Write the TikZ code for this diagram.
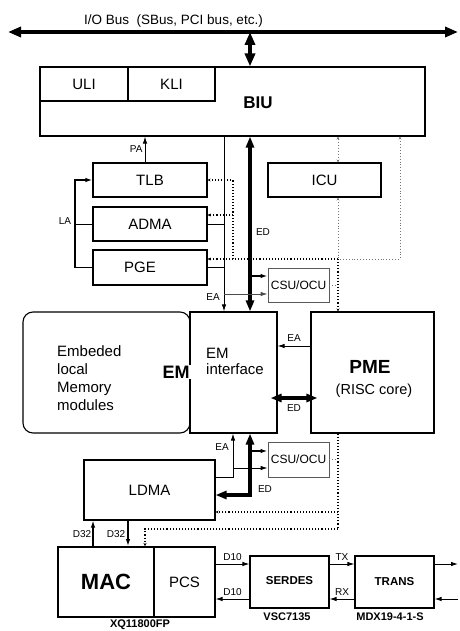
\documentclass[tikz,border=0pt]{standalone}
\usepackage{fontspec}
\setmainfont{Liberation Sans}
\usetikzlibrary{arrows.meta}

\begin{document}
\begin{tikzpicture}[x=1pt, y=-1pt,
  blk/.style={draw, line width=1.1pt, inner sep=0pt, align=center, font=\fontsize{15}{18}\selectfont},
  csu/.style={draw=black!65, line width=0.9pt, inner sep=0pt, minimum width=61pt, minimum height=34pt, font=\fontsize{12}{14}\selectfont},
  lbl/.style={inner sep=0pt, font=\fontsize{10}{12}\selectfont},
  partno/.style={inner sep=0pt, font=\bfseries\fontsize{11}{13}\selectfont},
  wire/.style={line width=0.9pt},
  bus/.style={line width=3.6pt, {Triangle[length=13pt,width=10pt]}-{Triangle[length=13pt,width=10pt]}},
  edbus/.style={line width=3.2pt},
  dotlight/.style={dotted, line width=0.9pt, black!55},
  dotdark/.style={dotted, line width=1.1pt},
  >={Latex[length=7pt,width=4.5pt]},
  ed>/.tip={Triangle[length=11pt,width=8pt]},
  dt>/.tip={Stealth[length=3pt,width=3pt]}
]
\useasboundingbox (0,0) rectangle (459,631);

% boxes
\node[blk, minimum width=385pt, minimum height=69pt] (biu) at (232.5,101.5) {};
\node[blk, minimum width=88pt, minimum height=34pt] (uli) at (84,84) {ULI};
\node[blk, minimum width=87pt, minimum height=34pt] (kli) at (171.5,84) {KLI};
\node[font=\bfseries\fontsize{17}{20}\selectfont] (biulbl) at (258,103) {BIU};
\node[blk, minimum width=114pt, minimum height=34pt] (tlb) at (150,180) {TLB};
\node[blk, minimum width=114pt, minimum height=34pt] (adma) at (150,224) {ADMA};
\node[blk, minimum width=114pt, minimum height=35pt] (pge) at (150,267.5) {\hspace*{-20pt}PGE};
\node[blk, minimum width=113pt, minimum height=34pt] (icu) at (324.5,180) {ICU};
\node[csu] (csu1) at (298.5,285) {CSU/OCU};
\node[blk, rounded corners=10pt, minimum width=167pt, minimum height=121pt] (emm) at (106.5,372.5) {};
\node[blk, minimum width=87pt, minimum height=121pt] (emi) at (233.5,372.5) {};
\node[blk, minimum width=123pt, minimum height=121pt] (pme) at (372.5,372.5) {};
\node[csu, minimum height=35pt] (csu2) at (298.5,459.5) {CSU/OCU};
\node[blk, minimum width=131pt, minimum height=60pt] (ldma) at (149.5,490) {LDMA};
\node[blk, line width=2pt, minimum width=96pt, minimum height=70pt, font=\bfseries\fontsize{22}{26}\selectfont] (mac) at (106,582) {MAC};
\node[blk, minimum width=61pt, minimum height=70pt] (pcs) at (184.5,582) {PCS};
\node[blk, minimum width=79pt, minimum height=52pt, font=\bfseries\fontsize{11.5}{14}\selectfont] (serdes) at (289.5,582) {\raisebox{4pt}{SERDES}};
\node[blk, minimum width=79pt, minimum height=52pt, font=\bfseries\fontsize{11.5}{14}\selectfont] (trans) at (394.5,582) {TRANS};

% texts inside the big boxes
\node[inner sep=0pt, anchor=west, align=left, font=\fontsize{15}{18}\selectfont] (emmtxt) at (57,378) {Embeded\\local\\Memory\\modules};
\node[inner sep=1pt, fill=white, font=\bfseries\fontsize{18}{21}\selectfont] (emlbl) at (176,372) {EM};
\node[inner sep=0pt, anchor=west, align=left, font=\fontsize{15}{16}\selectfont] (emitxt) at (206,361) {EM\\interface};
\node[font=\bfseries\fontsize{19}{22}\selectfont] (pmelbl) at (370,367) {PME};
\node[font=\fontsize{14.5}{17}\selectfont] (risc) at (374,391) {(RISC core)};
\node[partno] (xq) at (140,625) {XQ11800FP};
\node[partno] (vsc) at (287,617) {VSC7135};
\node[partno] (mdx) at (390,617) {MDX19-4-1-S};

% helper columns
\coordinate (busL) at (8,32);
\coordinate (busR) at (458,32);
\coordinate (busJ) at (250,32);
\coordinate (ea1) at (224,0);
\coordinate (ed1) at (250,0);
\coordinate (ea2) at (233,0);
\coordinate (icx) at (338,0);
\coordinate (dx2) at (400,0);
\coordinate (la) at (75,0);
\coordinate (outT) at (458,564);
\coordinate (outR) at (458,599);

% I/O bus
\draw[bus] (busL) -- (busR);
\node[anchor=base west, inner sep=0pt, font=\fontsize{13.5}{16}\selectfont] (iolbl) at (84,25) {I/O Bus\ \ (SBus, PCI bus, etc.)};
\draw[bus] (busJ) -- (busJ |- biu.north);

% BIU to TLB / EM interface
\draw[wire, ->] ([xshift=-5pt]tlb.north) -- ([xshift=-5pt]tlb.north |- biu.south) node[lbl, pos=0.5, left=2pt] {PA};
\draw[wire, ->] (biu.south -| ea1) -- (emi.north -| ea1);
\draw[edbus, ed>-ed>] (emi.north -| ed1) -- (biu.south -| ed1);
\node[lbl] (edU) at (263,232) {ED};
\draw[wire] (adma.east) -- (adma.east -| ea1);
\draw[wire] (pge.east) -- (pge.east -| ea1);

% LA
\draw[wire] (adma.west) -- (adma.west -| la);
\draw[line width=1.4pt, ->] (pge.west) -- (pge.west -| la) |- (tlb.west);
\node[lbl] (lalbl) at (65,221) {LA};

% upper CSU/OCU
\draw[wire, line width=1.6pt, ->] ([yshift=9pt]csu1.west -| ed1) -- ([yshift=9pt]csu1.west);
\draw[wire, black!70, ->] ([yshift=-9pt]csu1.west -| ea1) -- ([yshift=-9pt]csu1.west);
\node[lbl] (eaU) at (213,297) {EA};
\draw[dotlight] (csu1.east) -- (csu1.east -| icx);

% ICU and control lines
\draw[dotlight, dt>-dt>] (icu.north -| icx) -- (biu.south -| icx);
\draw[dotlight, dt>-] (icu.south -| icx) -- (icx |- 0,259);
\draw[dotdark, -dt>] (icx |- 0,259) -- (pme.north -| icx);
\draw[dotlight, dt>-] (biu.south -| dx2) -- (dx2 |- 0,259) -- (icx |- 0,259);
\draw[dotdark] (icx |- 0,259) -- (ea2 |- 0,259);
\draw[dotdark, -dt>] (ea2 |- 0,259) -- ([yshift=8.5pt]pge.east);
\draw[dotdark, -dt>] (ea2 |- 0,259) -- (ea2 |- tlb.east) -- (tlb.east);
\draw[dotdark, -dt>] (ea2 |- 0,215) -- ([yshift=9pt]adma.east);

% EM interface and PME
\draw[wire, ->] ([yshift=26.5pt]pme.west) -- ([yshift=26.5pt]pme.west -| emi.east) node[lbl, pos=0.5, above=4pt] {EA};
\draw[edbus, ed>-ed>, shorten <=-7pt, shorten >=-7pt] ([yshift=-25.5pt]emi.east) -- ([yshift=-25.5pt]emi.east -| pme.west) node[lbl, pos=0.5, below=5pt] {ED};

% LDMA side
\draw[wire, ->] ([yshift=13pt]ldma.east) -| (emi.south -| ea2);
\node[lbl] (eaL) at (222,447) {EA};
\draw[edbus, ed>-ed>] (emi.south -| ed1) |- ([yshift=-5pt]ldma.east);
\node[lbl] (edL) at (265,489) {ED};
\draw[wire, line width=1.6pt, ->] ([yshift=8.5pt]csu2.west -| ed1) -- ([yshift=8.5pt]csu2.west);
\draw[wire, ->] ([yshift=-8.5pt]csu2.west -| ea2) -- ([yshift=-8.5pt]csu2.west);
\draw[dotlight] (csu2.east) -- (csu2.east -| icx);
\draw[dotdark] (pme.south -| icx) -- (icx |- 0,529);
\draw[dotdark, -dt>] (icx |- 0,512) -- ([yshift=-22pt]ldma.east);
\draw[dotdark, -dt>] (icx |- 0,529) -| ([xshift=-4.5pt]ldma.south |- mac.north);

% D32
\draw[wire, line width=1.2pt, ->] ([xshift=-56.5pt]ldma.south |- mac.north) -- ([xshift=-56.5pt]ldma.south);
\node[lbl] (d32a) at (82,534) {D32};
\draw[wire, line width=1.2pt, ->] ([xshift=-21.5pt]ldma.south) -- ([xshift=-21.5pt]ldma.south |- mac.north);
\node[lbl] (d32b) at (116,534) {D32};

% serial chain
\draw[wire, ->] ([yshift=18pt]pcs.east) -- ([yshift=18pt]pcs.east -| serdes.west) node[lbl, pos=0.5, above=3pt] {D10};
\draw[wire, ->] ([yshift=-17pt]serdes.west) -- ([yshift=-17pt]serdes.west -| pcs.east) node[lbl, pos=0.5, above=3pt] {D10};
\draw[wire, ->] ([yshift=18pt]serdes.east) -- ([yshift=18pt]serdes.east -| trans.west) node[lbl, pos=0.5, above=3pt] {TX};
\draw[wire, ->] ([yshift=-17pt]trans.west) -- ([yshift=-17pt]trans.west -| serdes.east) node[lbl, pos=0.5, above=3pt] {RX};
\draw[wire, ->] ([yshift=18pt]trans.east) -- (outT);
\draw[wire, ->] (outR) -- ([yshift=-17pt]trans.east);
\end{tikzpicture}
\end{document}
